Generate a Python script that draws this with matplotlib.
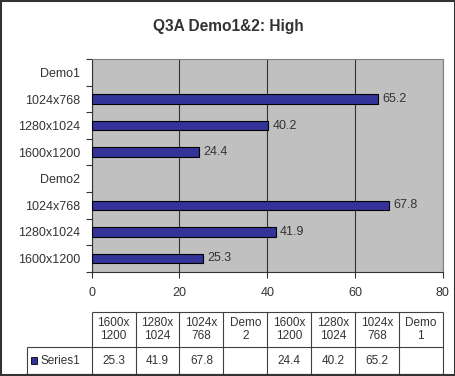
import numpy as np
import matplotlib.pyplot as plt
from matplotlib.patches import Rectangle

plt.rcParams['font.family'] = ['Liberation Sans', 'DejaVu Sans']

# categories bottom -> top (Excel draws the first category at the bottom)
labels = ['1600x1200', '1280x1024', '1024x768', 'Demo2',
          '1600x1200', '1280x1024', '1024x768', 'Demo1']
table_heads = ['1600x\n1200', '1280x\n1024', '1024x\n768', 'Demo\n2',
               '1600x\n1200', '1280x\n1024', '1024x\n768', 'Demo\n1']
series1 = [25.3, 41.9, 67.8, np.nan, 24.4, 40.2, 65.2, np.nan]
series_name = 'Series1'

txt = '#333333'
bar_col = '#333399'

fig = plt.figure(figsize=(4.56, 3.76), dpi=100)
fig.patch.set_facecolor('white')

W, H = 456.0, 376.0
def fx(px):
    return px / W
def fy(py):
    return 1 - py / H

# main chart
ax = fig.add_axes([fx(91.7), fy(271.7), fx(442.7) - fx(91.7), fy(59.3) - fy(271.7)])
ax.set_facecolor('#c0c0c0')
y = np.arange(len(labels))
vals = np.array(series1)
ax.barh(y, vals, height=0.36, color=bar_col, edgecolor='black', linewidth=0.8, zorder=3)
for yi, v in zip(y, vals):
    if not np.isnan(v):
        ax.annotate(f'{v:.1f}', (v, yi), xytext=(3, 0), textcoords='offset points',
                    va='center', ha='left', fontsize=9, color=txt)

ax.set_xlim(0, 80)
ax.set_ylim(-0.5, len(labels) - 0.5)
ax.set_xticks([0, 20, 40, 60, 80])
ax.set_yticks(y)
ax.set_yticklabels(labels)
ax.set_yticks(np.arange(-0.5, len(labels)), minor=True)
ax.tick_params(axis='y', which='major', length=0, pad=8.5, labelsize=9, labelcolor=txt)
ax.tick_params(axis='y', which='minor', length=4, width=0.8, color=txt)
ax.tick_params(axis='x', length=4, width=0.8, color=txt, pad=7, labelsize=9, labelcolor=txt)
ax.grid(axis='x', color='#333333', linewidth=0.8, zorder=1)
ax.set_axisbelow(True)
for s in ['top', 'right']:
    ax.spines[s].set_color('#808080')
    ax.spines[s].set_linewidth(0.8)
for s in ['left', 'bottom']:
    ax.spines[s].set_color('#333333')
    ax.spines[s].set_linewidth(0.8)

fig.text(0.5, fy(26), 'Q3A Demo1&2: High', ha='center', va='center',
         fontsize=11.2, fontweight='bold', color=txt)

# data table under the chart
n = len(table_heads)
colw = (442.7 - 91.7) / n
legw = (91.7 - 27) / colw
tax = fig.add_axes([fx(27), fy(374.3), fx(442.7) - fx(27), fy(312) - fy(374.3)])
tax.set_xlim(-legw, n)
tax.set_ylim(0, 62.3)
tax.axis('off')
lc = '#404040'
lw = 0.8
tax.hlines(62.3, 0, n, color=lc, lw=lw, clip_on=False)
tax.hlines([27.3, 0], -legw, n, color=lc, lw=lw, clip_on=False)
tax.vlines(np.arange(n + 1), 0, 62.3, color=lc, lw=lw, clip_on=False)
tax.vlines(-legw, 0, 27.3, color=lc, lw=lw, clip_on=False)
for i, (h, v) in enumerate(zip(table_heads, series1)):
    tax.text(i + 0.5, 44.8, h, ha='center', va='center', fontsize=8.5,
             color=txt, linespacing=1.05)
    if not np.isnan(v):
        tax.text(i + 0.5, 13.6, f'{v:.1f}', ha='center', va='center',
                 fontsize=8.5, color=txt)
tax.add_patch(Rectangle((-legw + 4 / colw, 10.5), 6 / colw, 6.5,
                        facecolor=bar_col, edgecolor='black', lw=0.6))
tax.text(-legw + 14 / colw, 13.6, series_name, ha='left', va='center',
         fontsize=8.5, color=txt)

# outer frame
fig.add_artist(Rectangle((0.002, 0.002), 0.996, 0.996, transform=fig.transFigure,
                         fill=False, edgecolor='#333333', lw=1.5))

fig.savefig('out.png', dpi=100)
